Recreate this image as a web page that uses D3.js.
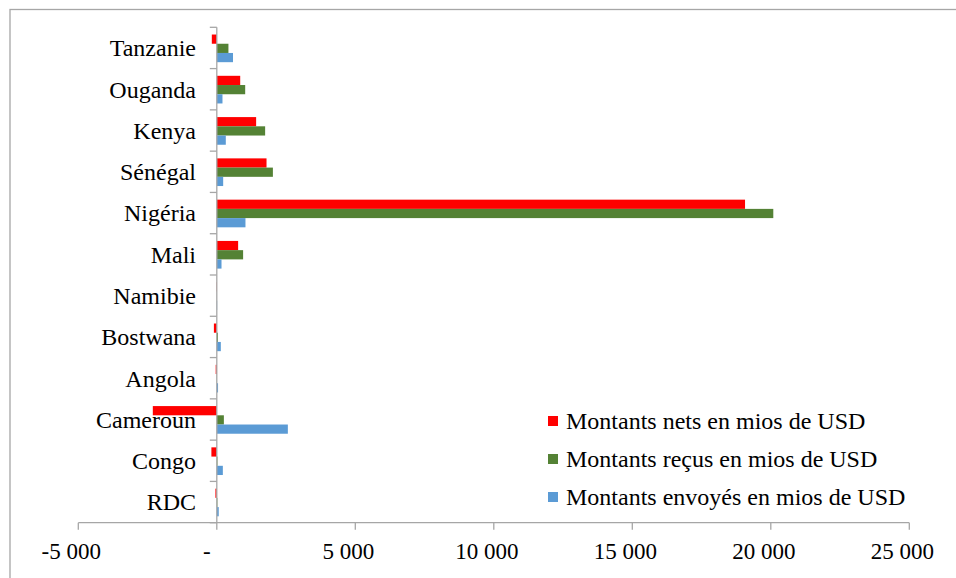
<!DOCTYPE html>
<html>
<head>
<meta charset="utf-8">
<script src="https://cdn.jsdelivr.net/npm/d3@7/dist/d3.min.js"></script>
<style>
  html, body { margin: 0; padding: 0; background: #fff; }
  svg { display: block; }
  text { font-family: "Liberation Serif", "Times New Roman", serif; fill: #000; }
</style>
</head>
<body>
<svg id="chart" width="956" height="578"></svg>
<script>
// Remittance flows by country (millions of USD)
const categories = ["Tanzanie", "Ouganda", "Kenya", "Sénégal", "Nigéria", "Mali",
                    "Namibie", "Bostwana", "Angola", "Cameroun", "Congo", "RDC"];
const seriesNames = ["Montants nets en mios de USD",
                     "Montants reçus en mios de USD",
                     "Montants envoyés en mios de USD"];
const netValues      = [-180, 845, 1420, 1795, 19070, 770, -10, -105, -40, -2310, -195, -50];
const receivedValues = [420, 1025, 1745, 2025, 20090, 950, 2, 40, 5, 255, 23, 20];
const sentValues     = [585, 205, 325, 230, 1035, 170, 12, 145, 45, 2565, 218, 70];
const xTicks = [-5000, 0, 5000, 10000, 15000, 20000, 25000];
const colors = ["#FF0000", "#548235", "#5B9BD5"];

const seriesValues = [netValues, receivedValues, sentValues];
const svg = d3.select("#chart");

// Outer chart frame
svg.append("rect")
  .attr("x", 10).attr("y", 9.5).attr("width", 980).attr("height", 600)
  .attr("fill", "none").attr("stroke", "#A6A6A6").attr("stroke-width", 1.3);

const x = d3.scaleLinear().domain([-5000, 25000]).range([78.3, 909.3]);
const y = d3.scaleBand().domain(categories).range([27.3, 522.7]).paddingInner(0).paddingOuter(0);
const bw = y.bandwidth();
const ySub = d3.scaleBand().domain(d3.range(3)).range([bw * 0.175, bw * 0.845]).padding(0);

const loc = d3.formatLocale({ decimal: ",", thousands: " ", grouping: [3], currency: ["", ""], minus: "-" });
const fmt = loc.format(",d");

// Category labels
svg.append("g").selectAll("text").data(categories).join("text")
  .attr("x", 196)
  .attr("y", d => y(d) + bw / 2)
  .attr("dy", "0.35em")
  .attr("text-anchor", "end")
  .attr("font-size", 24)
  .text(d => d);

// Bars
const rows = categories.map((c, i) => ({ c, vals: seriesValues.map(s => s[i]) }));
const groups = svg.append("g").selectAll("g").data(rows).join("g")
  .attr("transform", d => `translate(0,${y(d.c)})`);
groups.selectAll("rect").data(d => d.vals.map((v, k) => ({ v, k }))).join("rect")
  .attr("x", d => x(Math.min(0, d.v)))
  .attr("y", d => ySub(d.k))
  .attr("width", d => Math.abs(x(d.v) - x(0)))
  .attr("height", ySub.bandwidth())
  .attr("fill", d => colors[d.k]);

// Value axis (bottom)
const axisY = y.range()[1];
const gx = svg.append("g").attr("transform", `translate(0,${axisY})`);
gx.append("line")
  .attr("x1", x.range()[0]).attr("x2", x.range()[1])
  .attr("stroke", "#A6A6A6").attr("stroke-width", 1.3);
gx.selectAll("line.tick").data(xTicks).join("line")
  .attr("class", "tick")
  .attr("x1", d => x(d)).attr("x2", d => x(d))
  .attr("y1", 0).attr("y2", 7)
  .attr("stroke", "#A6A6A6").attr("stroke-width", 1.3);
gx.selectAll("text").data(xTicks).join("text")
  .attr("x", d => x(d) + (d === 0 ? -10 : -7))
  .attr("y", 28)
  .attr("dy", "0.35em")
  .attr("text-anchor", "middle")
  .attr("font-size", 23)
  .text(d => d === 0 ? "-" : fmt(d));

// Category axis at zero
const gy = svg.append("g");
gy.append("line")
  .attr("x1", x(0)).attr("x2", x(0))
  .attr("y1", y.range()[0]).attr("y2", y.range()[1])
  .attr("stroke", "#A6A6A6").attr("stroke-width", 1.3);
const bounds = categories.map(c => y(c)).concat([y.range()[1]]);
gy.selectAll("line.tick").data(bounds).join("line")
  .attr("class", "tick")
  .attr("x1", x(0) - 7).attr("x2", x(0))
  .attr("y1", d => d).attr("y2", d => d)
  .attr("stroke", "#A6A6A6").attr("stroke-width", 1.3);

// Legend
const legend = svg.append("g").attr("transform", "translate(548,421)");
const li = legend.selectAll("g").data(seriesNames).join("g")
  .attr("transform", (d, i) => `translate(0,${i * 38})`);
li.append("rect")
  .attr("x", 0).attr("y", -5).attr("width", 10).attr("height", 10)
  .attr("fill", (d, i) => colors[i]);
li.append("text")
  .attr("x", 18).attr("y", 0).attr("dy", "0.35em")
  .attr("font-size", 24)
  .text(d => d);
</script>
</body>
</html>
